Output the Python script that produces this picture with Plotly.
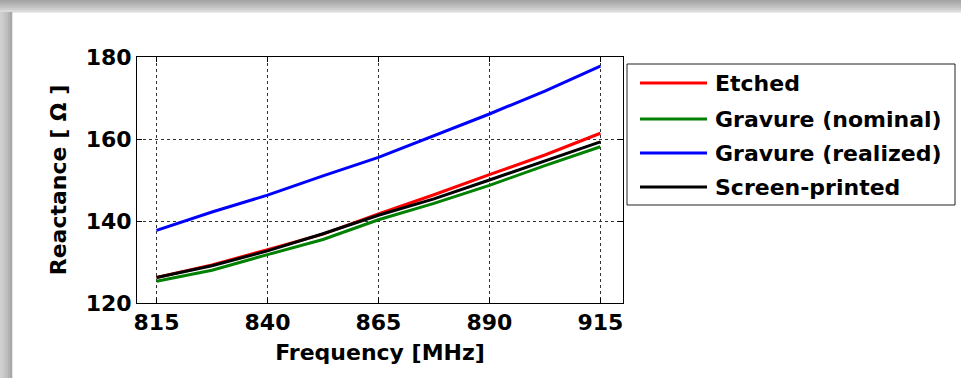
import plotly.graph_objects as go

# Frequency sweep (MHz) and measured reactance (Ohm) of each tag antenna
freq_mhz = [815, 827.5, 840, 852.5, 865, 877.5, 890, 902.5, 915]
etched = [126.2, 129.3, 133.0, 136.8, 141.7, 146.4, 151.3, 156.1, 161.4]
gravure_nominal = [125.3, 128.0, 131.8, 135.5, 140.3, 144.3, 148.7, 153.5, 158.1]
gravure_realized = [137.7, 142.2, 146.3, 151.0, 155.5, 160.8, 166.1, 171.7, 177.8]
screen_printed = [126.2, 129.1, 132.7, 136.9, 141.4, 145.4, 150.0, 154.6, 159.3]

series_names = ["Etched", "Gravure (nominal)", "Gravure (realized)", "Screen-printed"]
series_values = [etched, gravure_nominal, gravure_realized, screen_printed]
series_colors = ["#ff0000", "#008000", "#0000ff", "#000000"]

x_ticks = [815, 840, 865, 890, 915]
y_ticks = [120, 140, 160, 180]

W, H = 961, 378
L, R, T, B = 137, 623, 57, 303
FONT = "DejaVu Sans, Arial, sans-serif"
FS = 22


def px_x(px):
    return (px - L) / (R - L)


def px_y(py):
    return (B - py) / (B - T)


fig = go.Figure()
for name, vals, col in zip(series_names, series_values, series_colors):
    fig.add_trace(go.Scatter(
        x=freq_mhz, y=vals, mode="lines", name=name,
        line=dict(color=col, width=3), showlegend=False,
    ))

shapes = []
annotations = []

# window-frame shading along the top and left edges
top_shades = ["#a6a6a6", "#afafaf", "#b8b8b8", "#c2c2c2", "#cdcdcd", "#dadada"]
for k, c in enumerate(top_shades):
    shapes.append(dict(type="rect", xref="paper", yref="paper", layer="below",
                       x0=px_x(0), x1=px_x(W), y0=px_y(2 * k), y1=px_y(2 * k + 2.5),
                       fillcolor=c, line=dict(width=0)))
left_shades = ["#cfcfcf", "#cacaca", "#c4c4c4", "#bdbdbd", "#b2b2b2", "#a9a9a9"]
for k, c in enumerate(left_shades):
    shapes.append(dict(type="rect", xref="paper", yref="paper", layer="below",
                       x0=px_x(2 * k), x1=px_x(2 * k + 2.3), y0=px_y(H), y1=px_y(12),
                       fillcolor=c, line=dict(width=0)))

# boxed legend with long line samples
shapes.append(dict(type="rect", xref="paper", yref="paper",
                   x0=px_x(627), x1=px_x(955), y0=px_y(205), y1=px_y(64),
                   fillcolor="white", line=dict(color="#222222", width=1)))
legend_rows = [83, 119, 153, 187]
for name, col, ry in zip(series_names, series_colors, legend_rows):
    shapes.append(dict(type="line", xref="paper", yref="paper",
                       x0=px_x(640), x1=px_x(707), y0=px_y(ry), y1=px_y(ry),
                       line=dict(color=col, width=3)))
    annotations.append(dict(xref="paper", yref="paper", x=px_x(713), y=px_y(ry),
                            xanchor="left", yanchor="middle", showarrow=False,
                            text=name,
                            font=dict(family=FONT, size=FS, color="black", weight="bold")))

axis_common = dict(
    showline=True, linecolor="black", linewidth=1, mirror="allticks",
    ticks="inside", ticklen=5, tickcolor="black", tickwidth=1,
    showgrid=True, gridcolor="#333333", gridwidth=1, griddash="3px,3px",
    zeroline=False,
    tickfont=dict(family=FONT, size=FS, color="black", weight="bold"),
)

fig.update_layout(
    width=W, height=H,
    margin=dict(l=L, r=W - R, t=T, b=H - B),
    paper_bgcolor="white", plot_bgcolor="white",
    shapes=shapes, annotations=annotations,
    xaxis=dict(
        range=[810.6, 920.1], tickvals=x_ticks, ticktext=[str(v) for v in x_ticks],
        title=dict(text="Frequency [MHz]", standoff=10,
                   font=dict(family=FONT, size=FS, color="black", weight="bold")),
        **axis_common,
    ),
    yaxis=dict(
        range=[120, 180], tickvals=y_ticks, ticktext=[str(v) for v in y_ticks],
        title=dict(text="Reactance [ Ω ]", standoff=12,
                   font=dict(family=FONT, size=FS, color="black", weight="bold")),
        **axis_common,
    ),
    showlegend=False,
)

fig.write_html("out.html")
